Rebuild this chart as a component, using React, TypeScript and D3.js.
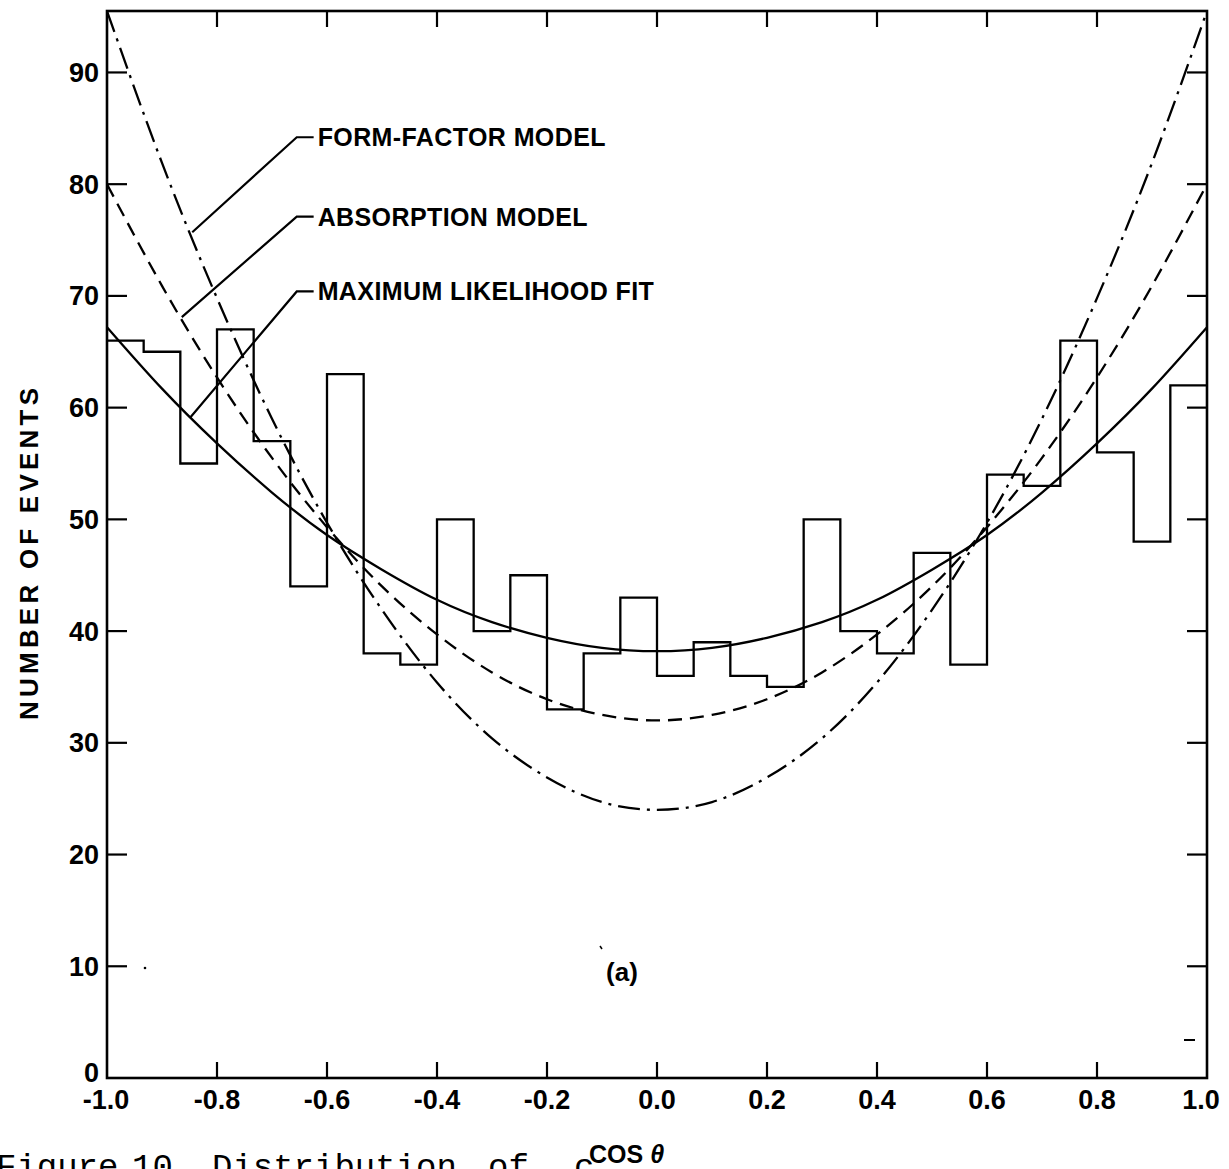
import React from 'react';
import * as d3 from 'd3';

// Histogram: 30 bins of cos(theta) from -1 to 1, number of events per bin
const binCounts = [66, 65, 55, 67, 57, 44, 63, 38, 37, 50, 40, 45, 33, 38, 43, 36, 39, 36, 35, 50, 40, 38, 47, 37, 54, 53, 66, 56, 48, 62];

// Curves, read at every 0.1 of cos(theta)
const cosGrid = [-1.0, -0.9, -0.8, -0.7, -0.6, -0.5, -0.4, -0.3, -0.2, -0.1, 0.0, 0.1, 0.2, 0.3, 0.4, 0.5, 0.6, 0.7, 0.8, 0.9, 1.0];
const mlFit = [67.2, 61.7, 56.8, 52.4, 48.6, 45.5, 42.8, 40.8, 39.4, 38.5, 38.2, 38.5, 39.4, 40.8, 42.8, 45.5, 48.6, 52.4, 56.8, 61.7, 67.2];
const absorption = [80.0, 70.9, 62.7, 55.5, 49.3, 44.0, 39.7, 36.3, 33.9, 32.5, 32.0, 32.5, 33.9, 36.3, 39.7, 44.0, 49.3, 55.5, 62.7, 70.9, 80.0];
const formFactor = [95.5, 81.9, 69.8, 59.0, 49.7, 41.9, 35.4, 30.4, 26.9, 24.7, 24.0, 24.7, 26.9, 30.4, 35.4, 41.9, 49.7, 59.0, 69.8, 81.9, 95.5];

const xTicks = [-1.0, -0.8, -0.6, -0.4, -0.2, 0.0, 0.2, 0.4, 0.6, 0.8, 1.0];
const xTickLabels = ['-1.0', '-0.8', '-0.6', '-0.4', '-0.2', '0.0', '0.2', '0.4', '0.6', '0.8', '1.0'];
const yTicks = [0, 10, 20, 30, 40, 50, 60, 70, 80, 90];
const yTickLabels = ['0', '10', '20', '30', '40', '50', '60', '70', '80', '90'];

const curveLabels = ['FORM-FACTOR MODEL', 'ABSORPTION MODEL', 'MAXIMUM LIKELIHOOD FIT'];

const W = 1229;
const H = 1169;

export default function App() {
  const x = d3.scaleLinear().domain([-1, 1]).range([107, 1207]);
  const y = d3.scaleLinear().domain([0, 95.5]).range([1078, 11]);

  const nBins = binCounts.length;
  const binW = 2 / nBins;
  const histPts: [number, number][] = binCounts.map((c, i) => [-1 + i * binW, c]);
  histPts.push([1, binCounts[nBins - 1]]);
  const histPath = d3
    .line<[number, number]>()
    .x((d) => x(d[0]))
    .y((d) => y(d[1]))
    .curve(d3.curveStepAfter)(histPts) as string;

  const curveGen = (vals: number[]) =>
    d3
      .line<number>()
      .x((_, i) => x(cosGrid[i]))
      .y((d) => y(d))
      .curve(d3.curveNatural)(vals) as string;

  // leader geometry (data coordinates)
  const leaders = [
    { ty: 84.2, ex: -0.845, ey: 75.7 },
    { ty: 77.1, ex: -0.864, ey: 68.1 },
    { ty: 70.4, ex: -0.849, ey: 59.1 },
  ];
  const elbowX = -0.655;
  const textX = -0.617;

  const font = "'Liberation Sans', Arial, sans-serif";
  const [x0, x1] = x.range();
  const [yb, yt] = y.range();

  return (
    <svg
      width={W}
      height={H}
      viewBox={`0 0 ${W} ${H}`}
      style={{ position: 'absolute', left: 0, top: 0, background: '#fff' }}
    >
      <rect x={0} y={0} width={W} height={H} fill="#fff" />
      {/* frame */}
      <rect x={x0} y={yt} width={x1 - x0} height={yb - yt} fill="none" stroke="#000" strokeWidth={2.6} />

      {/* x ticks (top & bottom, inward) */}
      {xTicks.slice(1, -1).map((t) => (
        <g key={'xt' + t}>
          <line x1={x(t)} x2={x(t)} y1={yb} y2={yb - 16} stroke="#000" strokeWidth={2.2} />
          <line x1={x(t)} x2={x(t)} y1={yt} y2={yt + 16} stroke="#000" strokeWidth={2.2} />
        </g>
      ))}
      {/* y ticks (left & right, inward) */}
      {yTicks.slice(1).map((t) => (
        <g key={'yt' + t}>
          <line x1={x0} x2={x0 + 20} y1={y(t)} y2={y(t)} stroke="#000" strokeWidth={2.2} />
          <line x1={x1} x2={x1 - 20} y1={y(t)} y2={y(t)} stroke="#000" strokeWidth={2.2} />
        </g>
      ))}

      {/* x tick labels */}
      {xTicks.map((t, i) => (
        <text
          key={'xl' + t}
          x={x(t) - (i === 0 ? 1 : i === xTicks.length - 1 ? 6 : 0)}
          y={yb + 31}
          textAnchor="middle"
          fontFamily={font}
          fontWeight="bold"
          fontSize={27}
        >
          {xTickLabels[i]}
        </text>
      ))}
      {/* y tick labels */}
      {yTicks.map((t, i) => (
        <text
          key={'yl' + t}
          x={99}
          y={(i === 0 ? y(t) - 6 : y(t)) + 9.5}
          textAnchor="end"
          fontFamily={font}
          fontWeight="bold"
          fontSize={27}
        >
          {yTickLabels[i]}
        </text>
      ))}

      {/* axis titles */}
      <text
        transform={`translate(38, 554) rotate(-90)`}
        textAnchor="middle"
        fontFamily={font}
        fontWeight="bold"
        fontSize={26}
        textLength={332}
        lengthAdjust="spacing"
      >
        NUMBER OF EVENTS
      </text>
      <text x={589} y={1163} fontFamily={font} fontWeight="bold" fontSize={25}>
        COS <tspan fontStyle="italic">θ</tspan>
      </text>

      {/* histogram */}
      <path d={histPath} fill="none" stroke="#000" strokeWidth={2.3} />

      {/* curves */}
      <path d={curveGen(mlFit)} fill="none" stroke="#000" strokeWidth={2.3} />
      <path d={curveGen(absorption)} fill="none" stroke="#000" strokeWidth={2.3} strokeDasharray="14,8" />
      <path d={curveGen(formFactor)} fill="none" stroke="#000" strokeWidth={2.3} strokeDasharray="22,7,3,7" />

      {/* labels with leaders */}
      {leaders.map((l, i) => (
        <g key={'lab' + i}>
          <polyline
            points={`${x(textX) - 4},${y(l.ty)} ${x(elbowX)},${y(l.ty)} ${x(l.ex)},${y(l.ey)}`}
            fill="none"
            stroke="#000"
            strokeWidth={2.2}
          />
          <text
            x={x(textX)}
            y={y(l.ty) + 9}
            fontFamily={font}
            fontWeight="bold"
            fontSize={25}
            letterSpacing={0.4}
          >
            {curveLabels[i]}
          </text>
        </g>
      ))}

      {/* panel label */}
      <text x={622} y={981} textAnchor="middle" fontFamily={font} fontWeight="bold" fontSize={26}>
        (a)
      </text>

      {/* scan specks */}
      <circle cx={145} cy={968} r={1.3} fill="#000" />
      <line x1={1184} x2={1195} y1={1040} y2={1040} stroke="#000" strokeWidth={2} />
      <line x1={600} x2={602} y1={946} y2={949} stroke="#000" strokeWidth={1.5} />

      {/* caption, cut off at page bottom as in the original scan */}
      <text y={1177} fontFamily="'Liberation Mono', 'Courier New', monospace" fontSize={34} xmlSpace="preserve">
        <tspan x={-4}>Figure</tspan>
        <tspan x={132}>10.</tspan>
        <tspan x={212}>Distribution</tspan>
        <tspan x={488}>of</tspan>
        <tspan x={574}>c</tspan>
      </text>
    </svg>
  );
}
